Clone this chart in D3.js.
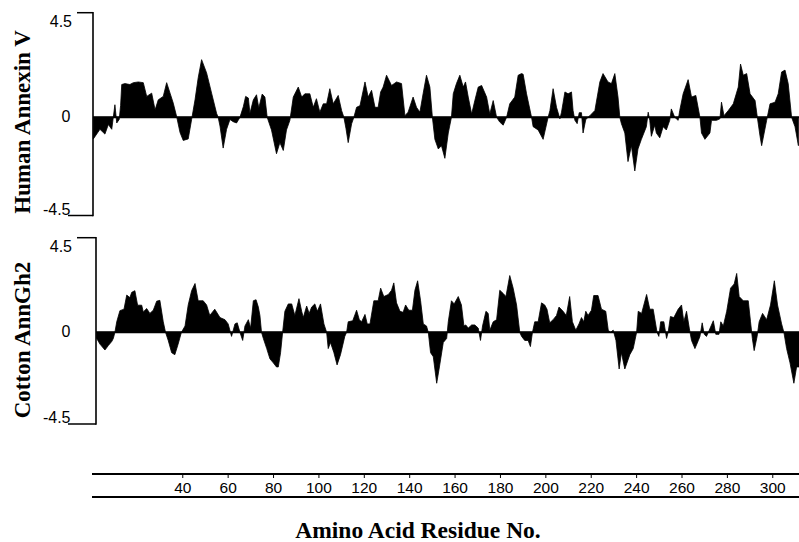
<!DOCTYPE html>
<html>
<head>
<meta charset="utf-8">
<script src="https://cdn.jsdelivr.net/npm/d3@7"></script>
<style>
  html, body { margin: 0; padding: 0; background: #fff; }
  svg { display: block; }
</style>
</head>
<body>
<svg id="chart" width="799" height="542"></svg>
<script>
// ---------------- DATA ----------------
const xTickValues = [40, 60, 80, 100, 120, 140, 160, 180, 200, 220, 240, 260, 280, 300];
const yTickValues = [4.5, 0, -4.5];
const yTickLabels = ["4.5", "0", "-4.5"];
const panelNames = ["Human Annexin V", "Cotton AnnGh2"];
const xTitle = "Amino Acid Residue No.";

// Human Annexin V hydropathy profile (residue, value)
const humanRes = [0.6,3.5,5.7,7.2,8.7,10.1,10.9,12.0,12.6,13.1,14.5,16.7,18.2,20.4,22.6,24.1,26.3,27.8,29.2,31.4,32.9,34.4,35.8,37.3,38.8,40.2,42.4,43.9,45.4,46.8,48.3,50.5,52.7,54.9,55.6,56.4,57.8,59.3,60.8,62.2,63.7,65.2,66.7,67.7,68.9,69.6,71.1,72.5,73.5,75.0,76.2,77.2,79.1,81.3,82.8,84.3,85.7,87.2,88.7,90.9,92.4,93.8,96.0,97.5,98.9,100.4,101.9,103.4,104.8,106.3,108.5,110.0,111.0,111.9,112.9,114.4,115.4,116.6,118.1,120.3,121.7,123.2,124.7,126.1,127.2,128.3,129.8,132.0,134.2,136.4,137.9,139.3,141.5,143.0,144.5,145.9,147.4,148.9,150.0,151.1,152.6,154.0,155.5,157.0,158.4,159.2,160.6,162.1,163.6,164.6,165.8,167.3,168.7,170.2,171.7,173.9,175.3,176.8,178.3,179.7,181.2,182.7,184.1,186.3,187.8,189.3,190.0,191.5,193.7,194.4,196.6,198.8,201.0,201.8,203.2,204.7,206.2,206.9,208.4,209.8,211.3,212.0,212.8,213.8,214.7,215.7,216.4,217.6,219.4,221.6,223.8,225.2,227.4,228.9,230.4,231.8,232.6,233.3,234.8,236.2,237.7,239.2,240.6,242.1,244.3,245.1,245.8,246.5,248.0,248.7,250.2,251.7,253.1,254.6,255.3,256.8,258.3,259.0,260.5,262.7,264.2,266.1,267.9,268.6,270.1,272.3,273.0,275.2,276.7,277.4,278.5,280.4,282.6,284.8,285.8,287.0,288.5,290.0,292.2,293.2,294.4,295.1,297.3,298.8,301.0,302.4,303.9,305.4,306.8,308.3,309.8,311.3];
const humanVal = [-0.99,-0.55,-0.77,-0.33,-0.55,0.54,-0.26,-0.1,0.5,1.41,1.45,1.41,1.49,1.52,1.49,0.9,1.04,0.32,0.75,0.9,1.49,1.04,0.61,0.03,-0.7,-1.06,-0.99,-0.1,0.75,1.7,2.48,1.91,1.04,0.17,0,-0.4,-1.41,-0.55,-0.1,-0.2,-0.26,0,0.46,0.9,0.83,0.17,0.75,0.97,0.4,1.0,0.87,0,-0.58,-1.67,-1.16,-1.52,-0.58,-0.14,0.87,1.3,0.87,1.01,1.01,0.43,0.8,0.22,0.58,0.58,1.23,0.58,0.94,0.29,0,-0.5,-1.16,-0.3,0,0.43,0.5,1.52,0.87,1.16,0.43,0.43,1.09,1.3,1.81,1.37,1.52,1.45,0.07,0.22,0.87,0.43,0.22,1.01,1.81,1.3,0,-1.01,-1.45,-1.3,-1.88,-0.72,0,1.01,1.45,1.81,1.3,1.52,0.87,0.14,0.72,1.3,1.37,0.87,0.14,0.72,0,-0.22,-0.36,0,0.58,0.87,1.81,1.88,1.85,1.01,0,-0.43,-0.58,-1.01,0,0.29,1.23,0.43,-0.07,0.22,1.09,1.01,1.09,0.29,-0.14,-0.29,0.2,0.2,-0.72,-0.1,0.07,0.29,1.52,1.88,1.52,1.45,1.88,0.87,0,-0.29,-0.72,-2.03,-1.3,-2.46,-1.45,-1.01,-0.43,0.22,-0.14,-0.87,-0.36,-0.72,-0.94,-0.43,-0.58,-0.14,0.36,0,-0.14,0.29,1.01,1.62,0.87,0.94,0,-0.72,-1.01,-0.72,-0.14,-0.14,-0.07,0.65,0.07,0.29,0.58,1.3,2.29,1.81,1.88,1.01,0.72,0,-0.87,-1.3,-0.14,0.58,0.65,1.01,1.95,2.03,1.45,0,-0.43,-1.3];

// Cotton AnnGh2 hydropathy profile (residue, value)
const cottonRes = [2.0,3.5,5.7,7.2,8.7,9.4,10.1,10.9,12.3,14.1,15.3,16.7,17.5,18.9,20.1,21.9,22.6,24.1,25.5,27.0,28.5,29.9,31.4,32.4,33.6,35.1,36.5,37.9,39.4,41.0,42.4,43.9,45.4,46.8,49.0,50.5,51.9,54.1,56.4,58.6,60.0,61.5,63.0,64.0,65.2,66.4,67.4,68.9,69.9,71.1,72.3,73.3,74.0,74.7,75.5,77.0,78.4,79.9,81.3,82.1,83.1,84.0,85.0,86.5,88.0,89.4,91.2,92.4,93.1,94.6,95.7,96.8,98.2,99.3,100.7,102.2,103.4,104.1,105.1,106.6,108.0,109.5,111.4,112.2,112.9,114.9,116.6,117.8,118.8,120.3,121.3,122.5,124.2,126.1,127.2,128.6,130.6,132.0,133.0,134.2,135.7,137.1,138.2,139.6,141.2,142.3,143.5,144.8,146.0,147.4,148.2,149.2,150.4,151.9,153.1,154.8,156.3,157.0,158.4,159.6,161.4,162.8,163.9,164.7,165.8,167.3,168.7,170.2,171.2,172.1,173.6,174.6,175.3,176.8,178.3,179.7,181.2,182.4,184.1,185.6,187.1,188.5,189.3,190.7,192.2,193.2,194.1,195.1,196.6,198.1,199.5,200.5,201.7,203.2,204.7,205.8,207.6,209.0,210.5,211.7,213.2,214.6,215.7,216.7,217.6,218.6,220.1,221.1,223.0,224.5,226.4,227.5,228.5,229.7,230.9,232.3,233.3,234.8,237.0,238.5,240.0,240.7,242.2,244.4,245.8,247.3,249.0,249.8,250.6,252.0,253.2,253.9,254.9,256.4,258.3,259.8,260.8,262.0,263.2,264.2,265.7,267.2,267.9,268.9,269.8,270.8,272.0,273.8,274.9,276.3,277.1,278.2,279.7,281.4,283.0,284.1,285.2,287.0,289.2,290.2,291.0,291.8,293.1,294.0,295.5,297.3,299.0,300.7,302.1,303.9,304.9,306.1,307.6,309.3,310.5,311.6];
const cottonVal = [-0.29,-0.58,-0.87,-0.65,-0.45,-0.3,0,0.5,1.03,1.1,1.77,1.65,1.9,1.98,1.29,1.29,0.97,1.13,0.9,1.05,1.48,1.52,0.5,0,-0.4,-1.0,-1.1,-0.6,0,0.3,1.3,1.98,2.32,1.5,1.5,1.3,0.8,1.1,0.7,0.6,0.4,-0.2,0.4,0.45,0,-0.4,0.3,0.6,0.2,1.5,1.55,1.2,0.8,0,-0.3,-0.8,-1.3,-1.5,-1.7,-1.7,-1.0,0,1.0,1.35,1.35,0.8,1.6,1.0,0.7,1.25,0.9,1.2,1.35,1.0,1.35,0.4,0,-0.8,-0.5,-1.0,-1.6,-1.1,-0.2,0,0.5,0.55,1.05,0.6,0.5,0.85,0.4,0.4,1.5,1.5,2.1,1.7,1.8,2.0,2.35,1.4,1.0,0.95,1.3,1.05,1.05,2.0,2.45,1.5,0.4,0.3,0,-1.0,-1.2,-2.5,-1.7,-0.5,-0.3,0.5,1.5,1.35,1.7,1.3,0.3,0.35,0.2,0.35,0.35,0.2,-0.4,0.3,1.0,0.9,0.1,0.5,0.6,2.0,1.85,1.7,2.7,2.1,1.3,0,-0.2,-0.4,-0.4,-0.7,0,0.5,0.5,1.4,1.3,1.1,0.45,0.6,0.8,1.2,1.0,0.8,1.7,0.5,0.1,0.4,0.7,0.5,1.0,0.8,1.05,1.75,1.75,1.1,1.0,0.1,0,0.1,-0.4,-1.8,-1.0,-1.8,-1.1,-0.8,0,1.0,0.9,1.8,1.1,1.1,0,-0.2,0.5,0.5,-0.3,0,0.75,0.7,1.1,1.3,0.5,1.0,0.2,-0.4,-0.8,-0.4,-0.2,0.45,-0.1,-0.2,0.1,0.55,-0.1,-0.1,0.5,0.3,1.0,2.1,2.3,2.8,1.7,1.5,1.5,0.5,-0.3,-0.9,-0.2,0.5,0.9,0.6,1.3,2.45,1.3,0.4,0,-0.8,-1.5,-2.5,-1.7,-1.7];

// ---------------- DRAWING ----------------
const svg = d3.select("#chart");
const W = 799, H = 542;
svg.append("rect").attr("width", W).attr("height", H).attr("fill", "#fff");

const serif = "'Liberation Serif', 'Times New Roman', serif";
const sans = "'Liberation Sans', Arial, sans-serif";

const x = d3.scaleLinear().domain([0, 312]).range([92, 800]);

const panels = [
  { name: panelNames[0], res: humanRes, val: humanVal, axisX: 93,
    y: d3.scaleLinear().domain([-4.5, 0, 4.5]).range([215.5, 117.3, 12.7]),
    labelY: 122, labelBase: [27, 122.3, 215] },
  { name: panelNames[1], res: cottonRes, val: cottonVal, axisX: 96,
    y: d3.scaleLinear().domain([-4.5, 0, 4.5]).range([424, 332.3, 237.7]),
    labelY: 340, labelBase: [252, 337.3, 423] }
];

const clip = svg.append("defs").append("clipPath").attr("id", "plotclip");
clip.append("rect").attr("x", 0).attr("y", 0).attr("width", W).attr("height", H);

panels.forEach(p => {
  const g = svg.append("g");
  const pts = p.res.map((r, i) => [r, p.val[i]]);
  const area = d3.area()
    .x(d => x(d[0]))
    .y0(p.y(0))
    .y1(d => p.y(d[1]))
    .curve(d3.curveLinear);
  g.append("path")
    .datum(pts)
    .attr("d", area)
    .attr("fill", "#000")
    .attr("stroke", "#000")
    .attr("stroke-width", 0.8)
    .attr("stroke-linejoin", "round")
    .attr("clip-path", "url(#plotclip)");

  // zero line
  g.append("line")
    .attr("x1", p.axisX).attr("x2", W)
    .attr("y1", p.y(0)).attr("y2", p.y(0))
    .attr("stroke", "#000").attr("stroke-width", 2);

  // vertical axis
  g.append("line")
    .attr("x1", p.axisX).attr("x2", p.axisX)
    .attr("y1", p.y(4.5) - 0.75).attr("y2", p.y(-4.5) + 0.75)
    .attr("stroke", "#000").attr("stroke-width", 1.6);

  // end ticks
  g.append("line")
    .attr("x1", 77).attr("x2", p.axisX)
    .attr("y1", p.y(4.5)).attr("y2", p.y(4.5))
    .attr("stroke", "#000").attr("stroke-width", 1.5);
  g.append("line")
    .attr("x1", 68).attr("x2", p.axisX)
    .attr("y1", p.y(-4.5)).attr("y2", p.y(-4.5))
    .attr("stroke", "#000").attr("stroke-width", 1.5);

  // tick labels
  yTickValues.forEach((v, i) => {
    g.append("text")
      .attr("x", i === 0 ? 72 : 70.5)
      .attr("y", p.labelBase[i])
      .attr("text-anchor", "end")
      .attr("font-family", sans)
      .attr("font-size", 16)
      .attr("fill", "#000")
      .text(yTickLabels[i]);
  });

  // panel label
  g.append("text")
    .attr("transform", `translate(30,${p.labelY}) rotate(-90)`)
    .attr("text-anchor", "middle")
    .attr("font-family", serif)
    .attr("font-weight", "bold")
    .attr("font-size", 23)
    .attr("fill", "#000")
    .text(p.name);
});

// x axis (double rule with labels between)
const axG = svg.append("g");
axG.append("line").attr("x1", 92).attr("x2", W).attr("y1", 474).attr("y2", 474)
  .attr("stroke", "#000").attr("stroke-width", 1.8);
axG.append("line").attr("x1", 92).attr("x2", W).attr("y1", 497).attr("y2", 497)
  .attr("stroke", "#000").attr("stroke-width", 2.2);
xTickValues.forEach(v => {
  axG.append("line").attr("x1", x(v)).attr("x2", x(v)).attr("y1", 474).attr("y2", 478)
    .attr("stroke", "#000").attr("stroke-width", 1);
  axG.append("text")
    .attr("x", x(v)).attr("y", 492.5)
    .attr("text-anchor", "middle")
    .attr("font-family", sans)
    .attr("font-size", 15.5)
    .attr("fill", "#000")
    .text(v);
});

svg.append("text")
  .attr("x", 418).attr("y", 538)
  .attr("text-anchor", "middle")
  .attr("font-family", serif)
  .attr("font-weight", "bold")
  .attr("font-size", 23.5)
  .attr("fill", "#000")
  .text(xTitle);
</script>
</body>
</html>
